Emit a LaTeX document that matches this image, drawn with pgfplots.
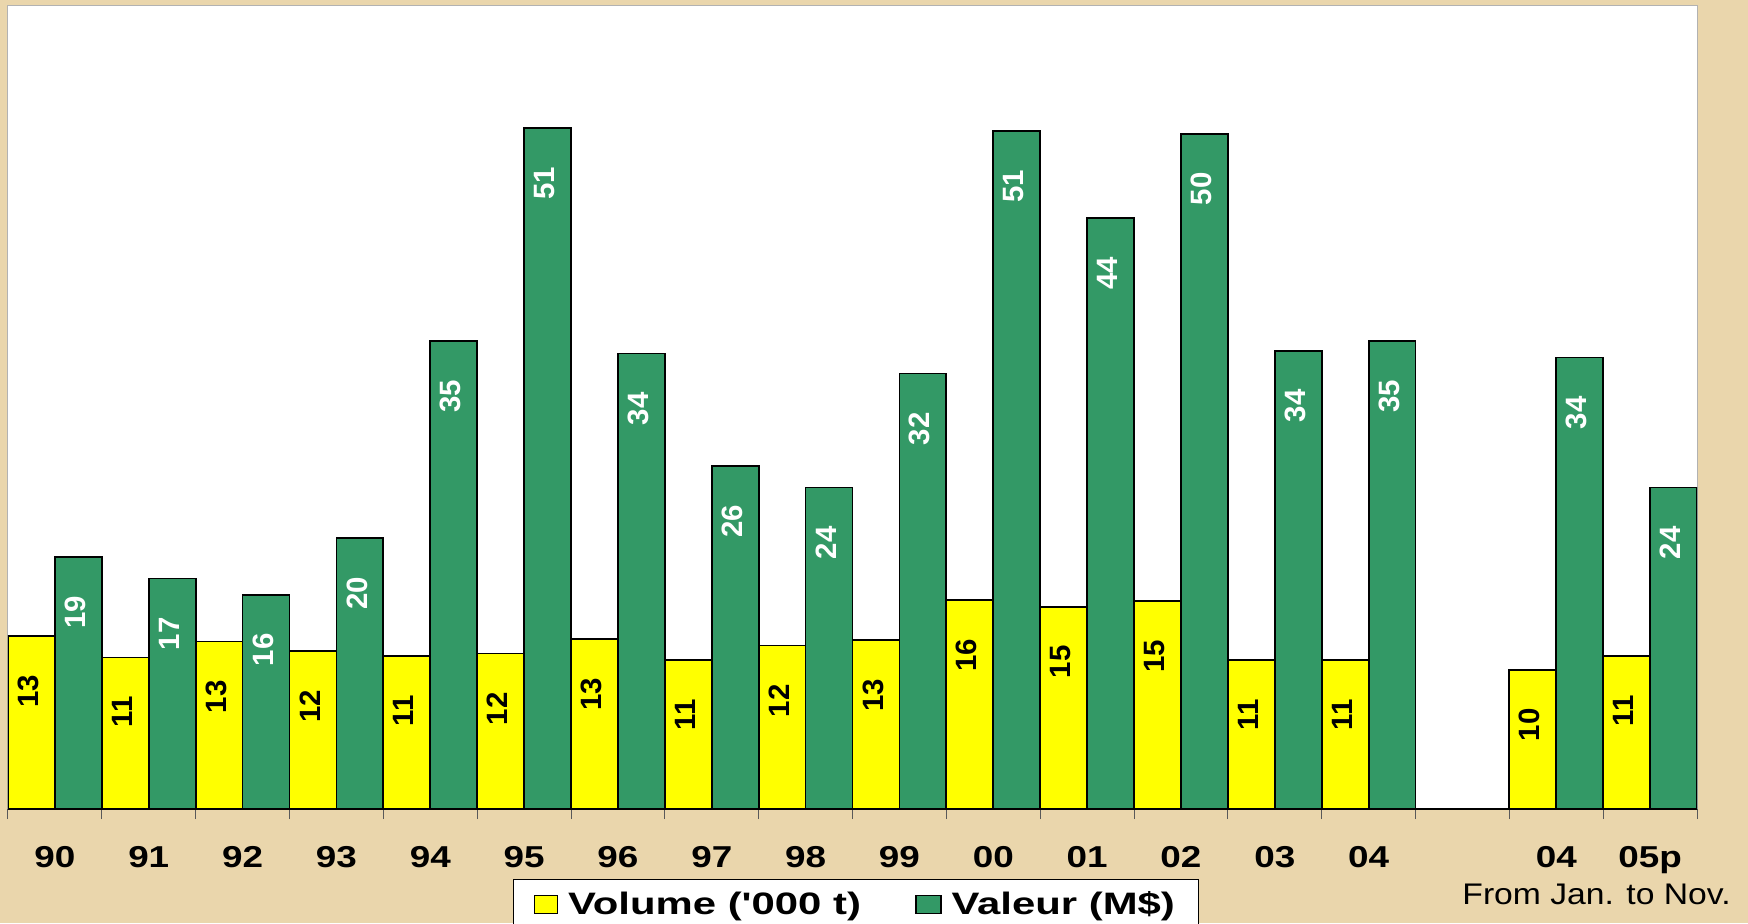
\documentclass[border=0pt]{standalone}
\usepackage{fontspec}
\usepackage{pgfplots}
\pgfplotsset{compat=1.18}
\setmainfont{Liberation Sans}
\newfontface\barfont{Liberation Sans Bold}
\newfontface\tickfont{Liberation Sans Bold}[FakeStretch=1.22]
\newfontface\legfont{Liberation Sans Bold}[FakeStretch=1.35]
\newfontface\notefont{Liberation Sans}[FakeStretch=1.13]
\definecolor{bg}{RGB}{234,214,172}
\definecolor{vyellow}{RGB}{255,255,0}
\definecolor{vgreen}{RGB}{51,153,102}
\begin{document}
\begin{tikzpicture}
\fill[bg] (-4pt,-57pt) rectangle (870pt,404.5pt);
\begin{axis}[
  width=844.5pt, height=402pt, scale only axis,
  xmin=-0.5, xmax=17.5, ymin=0, ymax=60,
  axis x line=bottom, axis y line=none,
  x axis line style={-, black, line width=1.3pt},
  axis background/.style={fill=white, draw=black!30, line width=0.5pt},
  ytick=\empty,
  xtick={0,1,2,3,4,5,6,7,8,9,10,11,12,13,14,16,17},
  xticklabels={90,91,92,93,94,95,96,97,98,99,00,01,02,03,04,04,05p},
  minor xtick={-0.5,0.5,...,17.5},
  tick align=outside,
  major tick length=0pt,
  minor tick length=5pt,
  minor tick style={black!65, line width=0.5pt},
  xticklabel style={font={\tickfont\fontsize{15.1pt}{18pt}\selectfont}, anchor=base, yshift=-29.2pt, inner sep=0pt},
  ybar=0pt, bar width=0.5,
  point meta=explicit symbolic,
  nodes near coords,
  every node near coord/.append style={xshift=-1.5pt, yshift=-19pt, rotate=90, anchor=east, inner sep=0pt, font={\barfont\fontsize{14.7pt}{16pt}\selectfont}},
  legend columns=2,
  legend style={at={(0.299,-0.0871)}, anchor=north west, draw=black, line width=0.5pt, fill=white,
    inner xsep=10pt, inner ysep=4pt,
    font={\legfont\fontsize{15.5pt}{18pt}\selectfont},
    /tikz/every odd column/.append style={column sep=3pt},
    /tikz/every even column/.append style={column sep=25pt}},
]
\addplot[fill=vyellow, draw=black, line width=0.9pt, bar shift=-0.25,
  every node near coord/.append style={text=black},
  legend image code/.code={\draw[fill=vyellow, draw=black, line width=0.8pt] (0pt,-4.5pt) rectangle (11.5pt,4.5pt);}]
coordinates {
(0,12.9) [13] (1,11.3) [11] (2,12.5) [13] (3,11.8) [12] (4,11.4) [11]
(5,11.6) [12] (6,12.7) [13] (7,11.1) [11] (8,12.2) [12] (9,12.6) [13]
(10,15.6) [16] (11,15.1) [15] (12,15.5) [15] (13,11.1) [11] (14,11.1) [11]
(16,10.4) [10] (17,11.4) [11]
};
\addlegendentry{Volume ('000 t)}
\addplot[fill=vgreen, draw=black, line width=0.9pt, bar shift=0.25,
  every node near coord/.append style={text=white},
  legend image code/.code={\draw[fill=vgreen, draw=black, line width=0.8pt] (0pt,-4.5pt) rectangle (12.5pt,4.5pt);}]
coordinates {
(0,18.8) [19] (1,17.2) [17] (2,16.0) [16] (3,20.2) [20] (4,34.9) [35]
(5,50.8) [51] (6,34.0) [34] (7,25.6) [26] (8,24.0) [24] (9,32.5) [32]
(10,50.6) [51] (11,44.1) [44] (12,50.4) [50] (13,34.2) [34] (14,34.9) [35]
(16,33.7) [34] (17,24.0) [24]
};
\addlegendentry{Valeur (M\$)}
\end{axis}
\node[anchor=base west, inner sep=0pt, font={\notefont\fontsize{14.9pt}{17pt}\selectfont}] at (727pt,-47.5pt) {From Jan. to Nov.};
\pgfresetboundingbox
\useasboundingbox (-4pt,-57pt) rectangle (870pt,404.5pt);
\end{tikzpicture}
\end{document}
